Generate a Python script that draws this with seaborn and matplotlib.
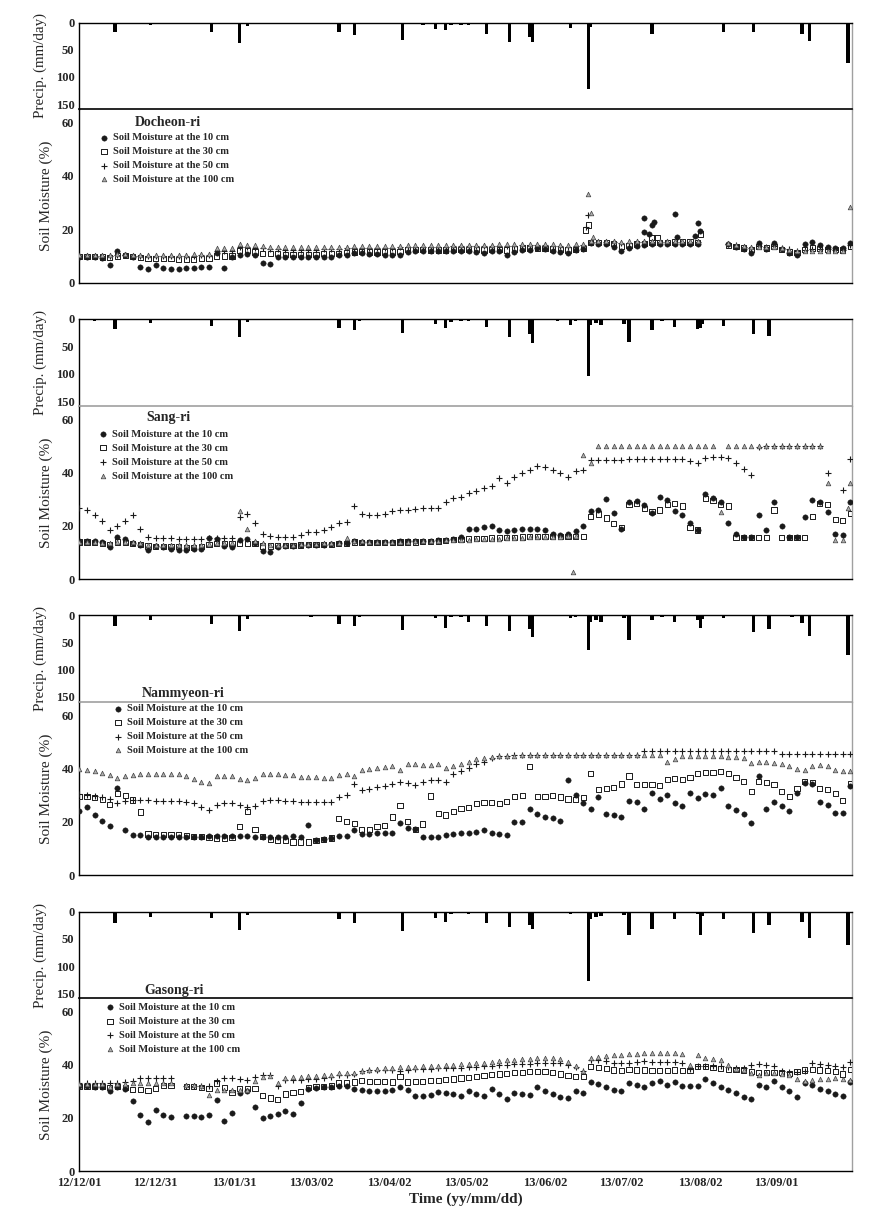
import numpy as np
import pandas as pd
import matplotlib
matplotlib.use("Agg")
import matplotlib.pyplot as plt
import seaborn as sns

nan = np.nan

# ---------------- axis labels / ticks ----------------
tick_days = [0, 30, 61, 91, 122, 152, 183, 213, 244, 274]
tick_labels = ["12/12/01", "12/12/31", "13/01/31", "13/03/02", "13/04/02",
               "13/05/02", "13/06/02", "13/07/02", "13/08/02", "13/09/01"]
minor_days = [15, 45.5, 76, 106.5, 137, 167.5, 198, 228.5, 259, 289]

stations = ["Docheon-ri", "Sang-ri", "Nammyeon-ri", "Gasong-ri"]
depth_labels = ["Soil Moisture at the 10 cm", "Soil Moisture at the 30 cm",
                "Soil Moisture at the 50 cm", "Soil Moisture at the 100 cm"]

# soil-moisture sampling days (days since 2012-12-01)
sm_days = list(range(0, 304, 3))

# ---------------- precipitation (mm/day) ----------------
precip_days = [6, 14, 21, 28, 32, 37, 40, 43, 52, 63, 66, 68, 84, 91, 96, 102, 108, 110, 121, 127,
               135, 140, 144, 146, 150, 153, 160, 169, 177, 178, 188, 193, 195, 200, 201, 203, 205,
               209, 214, 216, 225, 229, 234, 243, 244, 245, 253, 265, 271, 273, 280, 284, 287, 298, 302]
doc_rain = [1, 17, 2, 5, 0, 2, 2, 1, 17, 37, 7, 3, 2, 3, 0, 17, 22, 3, 1, 31, 5, 12, 13, 5, 4, 4, 20,
            35, 26, 35, 3, 10, 3, 123, 8, 0, 0, 0, 0, 0, 20, 0, 0, 0, 0, 0, 17, 17, 3, 2, 2, 20, 33, 3, 75]
sang_rain = [3, 19, 2, 8, 2, 0, 0, 0, 12, 33, 5, 0, 0, 2, 0, 16, 20, 3, 1, 25, 2, 10, 17, 5, 3, 4, 15,
             33, 28, 44, 3, 11, 4, 105, 11, 8, 11, 0, 9, 42, 20, 3, 14, 19, 17, 10, 12, 27, 31, 0, 2, 0, 0, 0, 0]
nam_rain = [2, 21, 2, 10, 2, 0, 0, 0, 16, 30, 7, 0, 0, 3, 2, 16, 21, 3, 1, 27, 2, 6, 23, 4, 3, 12, 21,
            30, 25, 40, 2, 6, 3, 65, 12, 10, 12, 0, 6, 46, 10, 3, 12, 10, 24, 8, 6, 32, 26, 0, 3, 15, 38, 2, 73]
gas_rain = [2, 20, 2, 9, 2, 0, 0, 0, 12, 33, 6, 2, 0, 3, 2, 14, 20, 3, 1, 35, 2, 12, 18, 4, 3, 5, 20,
            28, 25, 31, 3, 5, 3, 128, 14, 10, 8, 3, 6, 43, 31, 3, 14, 4, 43, 8, 14, 39, 25, 2, 2, 18, 49, 3, 62]

# ---------------- Docheon-ri soil moisture (%) ----------------
doc_10 = [9.7, 9.6, 9.5, 9.4, 6.5, 11.8, 10.5, 9.8, 6.0, 5.2,
          6.8, 5.5, 5.0, 5.2, 5.5, 5.6, 5.8, 6.0, 11.0, 5.5,
          9.8, 10.5, 10.8, 10.2, 7.5, 7.0, 9.5, 9.8, 9.6, 9.5,
          9.5, 9.6, 9.7, 9.8, 10.2, 10.5, 11.2, 11.0, 10.8, 10.6,
          10.4, 10.3, 10.2, 11.5, 11.8, 11.8, 11.8, 11.9, 12.0, 11.9,
          12.0, 12.0, 11.5, 11.0, 11.8, 11.8, 10.4, 11.5, 12.2, 12.2,
          13.0, 12.5, 12.0, 11.5, 11.0, 12.2, 12.5, 15.0, 14.5, 14.5,
          13.5, 12.0, 13.0, 13.8, 14.2, 14.5, 14.5, 14.5, 14.6, 14.6,
          14.5, 14.5, nan, nan, nan, 14.5, 13.5, 12.5, 11.2, 14.8,
          12.5, 15.0, 12.5, 11.0, 10.5, 14.5, 15.2, 14.0, 13.5, 13.0,
          12.8, 15.0]
doc_30 = [9.8, 9.8, 9.7, 9.6, 9.5, 10.0, 10.2, 9.8, 9.5, 9.0,
          9.0, 9.2, 9.0, 8.8, 8.8, 8.8, 9.0, 9.2, 10.0, 10.0,
          10.0, 12.0, 12.0, 11.5, 11.0, 10.8, 10.8, 10.5, 10.5, 10.5,
          10.5, 10.5, 10.8, 11.0, 11.0, 11.2, 11.5, 11.8, 11.5, 11.5,
          11.5, 11.5, 11.8, 12.5, 12.5, 12.3, 12.2, 12.2, 12.2, 12.3,
          12.3, 12.5, 12.3, 12.2, 12.4, 12.5, 12.2, 12.6, 13.0, 13.0,
          12.8, 12.8, 12.6, 12.4, 12.2, 12.5, 12.8, 15.0, 15.0, 15.0,
          14.8, 13.5, 14.0, 14.5, 14.8, 15.0, 15.0, 15.0, 15.2, 15.2,
          15.2, 15.0, nan, nan, nan, 14.0, 13.5, 13.0, 12.5, 13.5,
          13.0, 13.5, 12.5, 11.5, 11.2, 12.5, 13.0, 12.8, 12.5, 12.3,
          12.2, 13.5]
doc_50 = [10.0, 10.0, 10.0, 10.0, 10.0, 10.2, 10.2, 10.0, 10.0, 10.0,
          10.0, 10.0, 10.0, 10.0, 10.0, 10.0, 10.2, 10.5, 12.0, 12.0,
          12.0, 13.2, 13.5, 13.0, 12.8, 12.5, 12.5, 12.3, 12.3, 12.3,
          12.3, 12.3, 12.5, 12.5, 12.6, 12.8, 13.0, 13.0, 13.0, 13.0,
          13.0, 13.0, 13.2, 13.5, 13.5, 13.5, 13.5, 13.5, 13.5, 13.6,
          13.6, 13.7, 13.7, 13.7, 13.7, 13.8, 13.8, 13.8, 14.2, 14.2,
          14.0, 14.0, 13.8, 13.6, 13.5, 13.8, 14.0, 15.2, 15.2, 15.2,
          15.2, 14.8, 15.0, 15.2, 15.3, 15.3, 15.3, 15.4, 15.4, 15.4,
          15.4, 15.3, nan, nan, nan, 14.5, 14.0, 13.5, 13.0, 13.8,
          13.5, 13.8, 13.0, 12.5, 12.0, 12.3, 12.5, 12.5, 12.5, 12.4,
          12.3, 14.0]
doc_100 = [10.5, 10.5, 10.5, 10.5, 10.5, 10.6, 10.6, 10.5, 10.5, 10.5,
           10.5, 10.5, 10.5, 10.5, 10.5, 10.6, 10.6, 10.7, 13.0, 13.0,
           13.0, 14.4, 14.2, 14.0, 13.8, 13.5, 13.4, 13.3, 13.3, 13.3,
           13.3, 13.3, 13.3, 13.4, 13.5, 13.5, 13.6, 13.7, 13.7, 13.7,
           13.7, 13.8, 13.8, 14.0, 14.0, 14.0, 14.0, 14.0, 14.0, 14.1,
           14.1, 14.1, 14.2, 14.2, 14.2, 14.3, 14.3, 14.3, 14.6, 14.6,
           14.5, 14.4, 14.3, 14.2, 14.2, 14.4, 14.6, 15.6, 15.6, 15.6,
           15.6, 15.4, 15.5, 15.6, 15.6, 15.6, 15.7, 15.7, 15.7, 15.7,
           15.7, 15.6, nan, nan, nan, 14.8, 14.2, 13.8, 13.2, 13.5,
           13.2, 13.2, 12.8, 12.3, 12.0, 12.0, 12.0, 12.0, 12.0, 12.0,
           12.0, 28.5]
# isolated readings (day, value)
doc_extra_days = [[222, 222, 224, 225, 226, 234, 235, 242, 243, 244],
                  [199, 200, 225, 227, 244],
                  [199, 200],
                  [200, 201, 202]]
doc_extra_vals = [[24.1, 18.9, 18.1, 21.6, 22.9, 25.7, 17.0, 17.5, 22.5, 19.4],
                  [19.7, 21.6, 17.0, 17.0, 18.2],
                  [21.0, 25.4],
                  [33.1, 26.0, 17.2]]

# ---------------- Sang-ri ----------------
sang_10 = [14.5, 14.5, 14.3, 14.0, 12.3, 15.7, 15.0, 13.5, 13.0, 11.0,
           12.5, 12.3, 11.3, 11.0, 11.0, 11.2, 11.5, 15.5, 15.0, 12.5,
           12.0, 14.7, 15.0, 13.5, 10.8, 10.4, 12.3, 12.5, 12.6, 12.8,
           12.9, 12.9, 13.0, 13.2, 13.5, 13.6, 14.5, 14.0, 14.0, 14.1,
           14.1, 14.1, 14.2, 14.2, 14.3, 14.3, 14.5, 14.6, 14.8, 15.0,
           16.0, 18.8, 19.0, 19.5, 20.0, 18.5, 18.3, 18.5, 19.0, 19.0,
           19.0, 18.5, 17.0, 16.5, 17.0, 18.0, 20.0, 25.5, 26.0, 30.0,
           24.7, 19.0, 29.0, 29.5, 28.0, 25.0, 31.0, 29.7, 25.5, 24.0,
           21.0, 18.5, 32.0, 30.5, 29.0, 21.0, 17.0, 16.0, 15.8, 24.0,
           18.5, 29.0, 20.0, 16.0, 16.0, 23.5, 29.7, 29.0, 25.4, 17.0,
           16.5, 29.0]
sang_30 = [14.0, 14.0, 13.8, 13.5, 13.2, 14.0, 13.8, 13.5, 13.0, 12.5,
           12.3, 12.3, 12.2, 12.2, 12.0, 12.0, 12.3, 13.0, 13.3, 13.3,
           13.3, 13.5, 13.5, 13.3, 12.5, 12.5, 12.6, 12.7, 12.8, 12.9,
           13.0, 13.0, 13.1, 13.2, 13.4, 13.5, 14.0, 13.8, 13.8, 13.8,
           13.9, 13.9, 14.0, 14.0, 14.0, 14.1, 14.2, 14.4, 14.6, 14.8,
           15.0, 15.2, 15.3, 15.4, 15.5, 15.6, 15.7, 15.8, 15.9, 16.0,
           16.0, 16.0, 16.0, 16.0, 16.0, 16.0, 16.0, 23.5, 24.5, 23.0,
           21.0, 19.5, 28.0, 28.5, 26.5, 25.5, 26.0, 28.0, 28.3, 27.5,
           19.5, 18.5, 30.4, 29.5, 28.0, 27.5, 15.7, 15.7, 15.7, 15.7,
           15.7, 26.0, 15.7, 15.7, 15.7, 15.7, 23.5, 28.5, 28.0, 22.5,
           22.0, 24.7]
sang_50 = [26.6, 26.0, 24.0, 22.0, 18.5, 20.0, 22.0, 24.0, 19.0, 16.0,
           15.6, 15.5, 15.4, 15.3, 15.2, 15.1, 15.0, 15.4, 15.6, 15.6,
           15.5, 23.5, 24.5, 21.0, 17.0, 16.3, 16.0, 16.0, 16.0, 16.5,
           17.8, 17.8, 18.5, 19.7, 21.0, 21.6, 27.5, 24.5, 24.0, 24.0,
           24.5, 25.8, 26.0, 26.0, 26.5, 26.6, 26.6, 26.8, 29.0, 30.5,
           31.0, 32.5, 33.2, 34.2, 35.0, 38.0, 36.0, 38.5, 40.0, 41.0,
           42.5, 42.0, 41.0, 40.0, 38.5, 40.5, 41.0, 44.7, 44.7, 44.7,
           44.8, 44.9, 45.0, 45.0, 45.0, 45.0, 45.0, 45.0, 45.0, 45.0,
           44.5, 43.5, 45.5, 46.0, 46.0, 45.5, 43.5, 41.5, 39.0, 49.8,
           50.0, 50.0, 50.0, 50.0, 50.0, 50.0, 50.0, 50.0, 39.7, nan,
           33.5, 45.0]
sang_100 = [14.0, 14.0, 14.0, 13.8, 13.5, 14.0, 14.0, 14.0, 13.5, 13.0,
            13.0, 13.0, 12.8, 12.8, 12.8, 12.8, 13.0, 13.3, 13.5, 13.5,
            13.8, 25.7, 18.7, 14.5, 13.5, 13.0, 13.0, 13.0, 13.0, 13.2,
            13.3, 13.3, 13.5, 13.6, 13.8, 15.6, 14.5, 14.3, 14.0, 14.0,
            14.0, 14.0, 14.0, 14.0, 14.2, 14.3, 14.5, 14.5, 14.6, 14.7,
            14.8, 14.9, 15.0, 15.1, 15.2, 15.3, 15.4, 15.5, 15.6, 15.7,
            15.8, 15.9, 16.0, 16.0, 16.1, 16.2, 46.6, 43.5, 50.0, 50.0,
            50.0, 50.0, 50.0, 50.0, 50.0, 50.0, 50.0, 50.0, 50.0, 50.0,
            50.0, 50.0, 50.0, 50.0, 25.4, 50.0, 50.0, 50.0, 50.0, 50.0,
            50.0, 50.0, 50.0, 50.0, 50.0, 50.0, 50.0, 50.0, 36.2, 14.7,
            14.7, 36.0]
sang_extra_days = [[], [], [], [194, 302]]
sang_extra_vals = [[], [], [], [2.9, 26.6]]

# ---------------- Nammyeon-ri ----------------
nam_10 = [24.1, 25.4, 22.5, 20.5, 18.5, 32.6, 17.0, 15.1, 15.0, 14.5,
          14.3, 14.2, 14.2, 14.2, 14.3, 14.4, 14.5, 14.7, 14.8, 14.7,
          14.7, 14.8, 14.7, 14.5, 14.5, 14.5, 14.4, 14.5, 14.6, 14.5,
          18.9, 13.2, 13.5, 13.8, 14.7, 14.8, 17.0, 15.6, 15.6, 15.7,
          15.7, 15.8, 19.7, 17.6, 17.2, 14.5, 14.3, 14.5, 15.0, 15.3,
          15.8, 15.8, 16.3, 17.0, 15.7, 15.5, 15.2, 20.0, 19.8, 24.7,
          22.9, 22.0, 21.5, 20.5, 35.5, 30.0, 27.2, 24.9, 29.5, 23.0,
          22.5, 22.0, 28.0, 27.5, 25.0, 31.0, 28.5, 30.0, 27.0, 26.0,
          31.0, 29.0, 30.5, 30.0, 32.6, 26.0, 24.5, 23.0, 19.5, 37.0,
          25.0, 27.5, 26.0, 24.0, 30.7, 34.7, 34.0, 27.5, 26.5, 23.2,
          23.2, 33.5]
nam_30 = [29.5, 29.5, 29.2, 28.5, 26.4, 30.7, 30.0, 28.2, 23.7, 15.5,
          15.4, 15.4, 15.4, 15.3, 14.8, 14.5, 14.5, 14.2, 14.0, 14.0,
          14.2, 18.2, 24.0, 17.0, 14.5, 13.5, 13.2, 13.0, 12.5, 12.5,
          12.5, 13.0, 13.5, 14.0, 21.4, 20.0, 19.5, 17.0, 17.0, 18.2,
          18.5, 21.8, 26.0, 20.0, 17.0, 19.2, 29.7, 23.2, 22.6, 24.0,
          25.0, 25.5, 27.0, 27.2, 27.2, 27.0, 27.5, 29.5, 30.0, 40.7,
          29.5, 29.5, 29.8, 29.3, 28.6, 28.5, 29.0, 38.2, 32.0, 32.5,
          32.8, 34.2, 37.2, 34.0, 34.0, 33.9, 33.5, 36.0, 36.1, 36.0,
          36.5, 38.0, 38.6, 38.6, 39.0, 38.0, 36.5, 35.0, 31.4, 35.0,
          34.7, 34.0, 31.5, 29.5, 32.5, 35.0, 34.8, 32.5, 32.0, 30.5,
          28.0, 34.5]
nam_50 = [30.4, 30.0, 29.6, 29.2, 28.5, 27.0, 28.0, 28.2, 28.2, 28.2,
          28.0, 27.9, 27.9, 27.8, 27.5, 27.0, 25.5, 24.5, 26.5, 27.0,
          27.2, 26.5, 25.7, 26.0, 28.0, 28.2, 28.2, 28.0, 27.8, 27.5,
          27.5, 27.5, 27.6, 27.6, 29.5, 30.0, 34.0, 32.0, 32.3, 33.0,
          33.5, 34.0, 35.0, 34.5, 33.9, 34.8, 35.7, 35.5, 35.0, 38.0,
          39.0, 40.0, 41.5, 42.6, 44.0, 44.5, 44.8, 45.0, 45.1, 45.1,
          45.1, 45.1, 45.1, 45.1, 45.1, 45.1, 45.1, 45.1, 45.1, 45.1,
          45.1, 45.1, 45.1, 45.1, 46.4, 46.4, 46.4, 46.4, 46.4, 46.4,
          46.4, 46.4, 46.4, 46.4, 46.4, 46.4, 46.4, 46.4, 46.4, 46.4,
          46.4, 46.4, 45.3, 45.3, 45.3, 45.3, 45.3, 45.3, 45.3, 45.3,
          45.3, 45.3]
nam_100 = [39.9, 39.4, 38.9, 38.2, 37.5, 36.4, 37.3, 37.6, 37.8, 38.0,
           38.0, 38.0, 38.0, 37.8, 37.0, 36.0, 35.0, 34.5, 37.0, 37.2,
           37.0, 36.2, 35.7, 36.5, 37.8, 38.0, 38.0, 37.6, 37.5, 36.8,
           36.7, 36.8, 36.5, 36.6, 37.5, 38.0, 37.2, 39.5, 39.8, 40.2,
           40.5, 41.0, 39.5, 41.7, 41.5, 41.3, 41.4, 41.5, 40.0, 40.8,
           41.8, 42.5, 43.5, 44.0, 44.3, 44.5, 44.6, 44.8, 44.9, 44.9,
           44.9, 44.9, 44.9, 44.9, 45.0, 45.0, 45.0, 45.0, 45.0, 45.0,
           45.0, 45.0, 45.0, 45.0, 45.0, 45.0, 45.0, 42.3, 43.5, 44.5,
           44.5, 44.5, 44.5, 44.5, 44.5, 44.3, 44.2, 44.0, 42.2, 42.6,
           42.4, 42.0, 41.5, 40.8, 39.8, 39.5, 41.0, 41.4, 41.0, 39.5,
           38.9, 38.9]
nam_extra_days = [[], [], [], []]
nam_extra_vals = [[], [], [], []]

# ---------------- Gasong-ri ----------------
gas_10 = [31.9, 31.9, 31.8, 31.5, 30.0, 31.5, 31.0, 26.2, 21.2, 18.5,
          23.0, 21.0, 20.5, nan, 20.6, 20.6, 20.2, 21.0, 26.9, 19.0,
          22.0, 29.5, 30.0, 24.0, 20.0, 20.8, 21.5, 22.5, 21.5, 25.6,
          31.0, 31.2, 31.5, 31.8, 32.0, 31.9, 31.0, 30.5, 30.0, 30.0,
          30.0, 30.5, 31.5, 30.5, 28.4, 28.4, 28.7, 29.8, 29.5, 28.8,
          28.2, 30.0, 29.0, 28.2, 31.0, 29.0, 27.2, 29.5, 29.0, 28.5,
          31.5, 30.0, 29.0, 28.0, 27.5, 30.0, 29.5, 33.4, 32.8, 31.5,
          30.5, 30.0, 33.0, 32.5, 31.5, 33.0, 33.7, 32.5, 33.5, 31.9,
          31.9, 32.0, 34.5, 33.0, 31.5, 30.5, 29.5, 28.0, 27.0, 32.5,
          31.5, 33.7, 31.5, 30.0, 28.0, 33.1, 32.5, 31.0, 30.0, 29.0,
          28.1, 33.4]
gas_30 = [31.9, 31.9, 31.9, 31.8, 31.5, 31.9, 31.5, 30.8, 30.6, 30.2,
          31.0, 32.1, 32.1, nan, 31.9, 31.9, 31.5, 31.0, 33.1, 31.5,
          29.4, 31.2, 31.2, 31.0, 28.5, 27.5, 26.8, 29.0, 29.4, 30.0,
          31.5, 31.9, 31.9, 32.0, 33.1, 33.1, 33.5, 34.2, 33.8, 33.7,
          33.7, 33.5, 35.5, 33.5, 33.7, 33.8, 34.0, 34.2, 34.4, 34.6,
          35.0, 35.3, 35.6, 35.8, 36.2, 36.5, 36.8, 37.0, 37.2, 37.4,
          37.5, 37.3, 37.0, 36.5, 36.0, 35.6, 35.6, 39.4, 39.0, 38.5,
          38.0, 37.8, 38.2, 38.0, 38.0, 37.9, 37.8, 37.9, 38.0, 37.8,
          37.9, 39.4, 39.4, 39.0, 38.5, 38.2, 38.1, 38.0, 37.5, 37.1,
          37.0, 37.2, 37.0, 36.8, 37.5, 38.0, 38.1, 38.0, 37.8, 37.5,
          36.5, 38.1]
gas_50 = [33.0, 33.0, 33.0, 33.0, 33.0, 33.0, 33.5, 34.0, 35.0, 35.0,
          35.0, 35.0, 35.0, nan, 31.9, 31.9, 31.9, 31.9, 34.0, 35.0,
          35.0, 34.5, 34.4, 35.5, 36.0, 36.2, 31.9, 34.4, 34.4, 34.4,
          34.6, 34.8, 35.0, 35.5, 36.0, 36.2, 36.5, 37.5, 38.0, 38.1,
          38.1, 38.2, 37.5, 38.2, 38.3, 38.4, 38.5, 38.6, 38.7, 38.8,
          38.9, 39.0, 39.2, 39.4, 39.6, 39.8, 40.0, 40.2, 40.3, 40.4,
          40.5, 40.5, 40.6, 40.6, 40.0, 39.0, 37.5, 41.6, 41.6, 41.5,
          40.8, 40.6, 40.8, 41.2, 41.4, 41.2, 41.0, 41.0, 41.0, 40.6,
          38.5, 39.4, 39.4, 39.4, 39.4, 39.0, 38.7, 38.7, 40.0, 40.2,
          40.0, 39.5, 37.5, 37.4, 37.4, 37.5, 40.6, 40.4, 40.0, 39.6,
          39.0, 41.2]
gas_100 = [32.7, 32.7, 32.7, 32.6, 31.5, 32.7, 32.7, 33.0, 33.0, 33.0,
           33.1, 33.1, 33.1, nan, 32.5, 32.5, 32.0, 28.7, 30.6, 30.6,
           30.6, 30.3, 30.5, 34.0, 35.3, 35.8, 33.1, 35.0, 35.2, 35.4,
           35.6, 35.8, 36.0, 36.2, 36.8, 37.0, 37.0, 37.8, 38.2, 38.5,
           38.7, 38.8, 39.0, 39.2, 39.3, 39.4, 39.4, 39.6, 39.8, 40.0,
           40.2, 40.4, 40.5, 40.6, 41.2, 41.4, 41.6, 41.8, 42.0, 42.3,
           42.4, 42.5, 42.5, 42.3, 41.0, 39.5, 37.5, 42.5, 43.0, 43.3,
           43.5, 43.5, 44.0, 44.2, 44.3, 44.4, 44.5, 44.5, 44.5, 44.0,
           40.0, 43.5, 42.5, 42.0, 41.9, 40.0, 38.5, 38.1, 37.0, 36.2,
           36.8, 36.9, 36.5, 36.0, 34.5, 33.7, 34.4, 34.6, 34.8, 35.0,
           34.5, 34.4]
gas_extra_days = [[], [], [], []]
gas_extra_vals = [[], [], [], []]

station_sm = [(doc_10, doc_30, doc_50, doc_100), (sang_10, sang_30, sang_50, sang_100),
              (nam_10, nam_30, nam_50, nam_100), (gas_10, gas_30, gas_50, gas_100)]
station_rain = [doc_rain, sang_rain, nam_rain, gas_rain]
station_extra = [(doc_extra_days, doc_extra_vals), (sang_extra_days, sang_extra_vals),
                 (nam_extra_days, nam_extra_vals), (gas_extra_days, gas_extra_vals)]

# ---------------- styling / layout ----------------
sns.set_theme(style="white")
plt.rcParams["font.family"] = ["Liberation Serif", "DejaVu Serif"]
plt.rcParams["axes.linewidth"] = 1.0

W, H = 872, 1216
fig = plt.figure(figsize=(W / 100, H / 100), dpi=100)
left_px, right_px = 79.3, 851.7
panel_px = [(22.7, 109.0, 282.7), (319.0, 406.0, 579.3),
            (615.0, 701.7, 875.3), (911.7, 998.3, 1171.0)]
boundary_col = ["black", "#a0a0a0", "#a0a0a0", "black"]
title_px = [(168, 122), (168, 418), (183, 693), (174, 990.7)]
legend_px = [(104, 137), (103, 433.3), (118, 708), (110, 1006.7)]

styles = [
    dict(marker="o", s=15, color="k", edgecolor="k", linewidth=0.3),
    dict(marker="s", s=14, color="k", facecolor="none", edgecolor="k", linewidth=0.7),
    dict(marker="+", s=24, color="k", linewidth=0.8),
    dict(marker="^", s=11, color="#555555", facecolor="#b0b0b0", edgecolor="#404040", linewidth=0.5),
]


def rect(top, bot):
    return [left_px / W, 1 - bot / H, (right_px - left_px) / W, (bot - top) / H]


for k in range(4):
    top, mid, bot = panel_px[k]
    axs = fig.add_axes(rect(mid, bot))
    axp = fig.add_axes(rect(top, mid), sharex=axs)
    axp.patch.set_visible(False)

    # precipitation
    axp.bar(precip_days, station_rain[k], width=1.3, color="black", linewidth=0)
    axp.set_ylim(159, 0)
    axp.set_yticks([0, 50, 100, 150], ["0", "50", "100", "150"], fontweight="bold")
    axp.set_yticks([25, 75, 125], minor=True)
    axp.tick_params(axis="y", which="major", direction="in", length=8, width=1,
                    color="#888888", labelsize=9, pad=3.5)
    axp.tick_params(axis="y", which="minor", direction="in", length=4, width=1, color="#888888")
    axp.tick_params(axis="x", which="both", bottom=False, top=False, labelbottom=False)
    axp.set_ylabel("Precip. (mm/day)", fontsize=10.8)
    axp.yaxis.set_label_coords(-0.042, 0.5)
    for side in ["left", "top"]:
        axp.spines[side].set_color("black")
    axp.spines["right"].set_color("#a0a0a0")
    axp.spines["bottom"].set_color(boundary_col[k])
    axp.spines["bottom"].set_linewidth(1.2)
    axp.set_xlabel("")

    # soil moisture
    df = pd.DataFrame({"day": sm_days, "d10": station_sm[k][0], "d30": station_sm[k][1],
                       "d50": station_sm[k][2], "d100": station_sm[k][3]})
    handles = []
    for j, col in enumerate(["d10", "d30", "d50", "d100"]):
        sns.scatterplot(data=df, x="day", y=col, ax=axs, legend=False, zorder=3, **styles[j])
        handles.append(axs.collections[-1])
        ed, ev = station_extra[k][0][j], station_extra[k][1][j]
        if len(ed):
            sns.scatterplot(x=ed, y=ev, ax=axs, legend=False, zorder=3, **styles[j])

    axs.set_xlim(0, 303.5)
    axs.set_ylim(0, 65)
    axs.set_yticks([0, 20, 40, 60], ["0", "20", "40", "60"], fontweight="bold")
    axs.set_yticks([10, 30, 50], minor=True)
    if k == 3:
        axs.set_xticks(tick_days, tick_labels, fontweight="bold")
    else:
        axs.set_xticks(tick_days, [""] * len(tick_days))
    axs.set_xticks(minor_days, minor=True)
    axs.tick_params(axis="both", which="major", direction="in", length=8, width=1,
                    color="black", labelsize=9, pad=3.5)
    axs.tick_params(axis="both", which="minor", direction="in", length=4, width=1, color="#888888")
    axs.tick_params(axis="x", which="major", pad=4.5)
    axs.spines["top"].set_visible(False)
    axs.spines["left"].set_color("black")
    axs.spines["bottom"].set_color("black")
    axs.spines["right"].set_color("#a0a0a0")
    axs.set_ylabel("Soil Moisture (%)", fontsize=11)
    axs.yaxis.set_label_coords(-0.034, 0.5)
    if k == 3:
        axs.set_xlabel("Time (yy/mm/dd)", fontsize=11, fontweight="bold", labelpad=2)
    else:
        axs.set_xlabel("")

    # station title + legend (figure-level so it sits above the axes lines)
    tx, ty = title_px[k]
    fig.text(tx / W, 1 - ty / H, stations[k], ha="center", va="center",
             fontsize=10, fontweight="bold")
    mx, my = legend_px[k]
    fig.legend(handles=handles, labels=depth_labels, loc="upper left",
               bbox_to_anchor=((mx - 5.2) / W, 1 - (my - 4.0) / H),
               bbox_transform=fig.transFigure, frameon=False, borderpad=0,
               borderaxespad=0, handlelength=1.0, handletextpad=0.35,
               labelspacing=0.45, scatterpoints=1,
               prop=dict(weight="bold", size=7.5))

fig.savefig("out.png", dpi=100)
